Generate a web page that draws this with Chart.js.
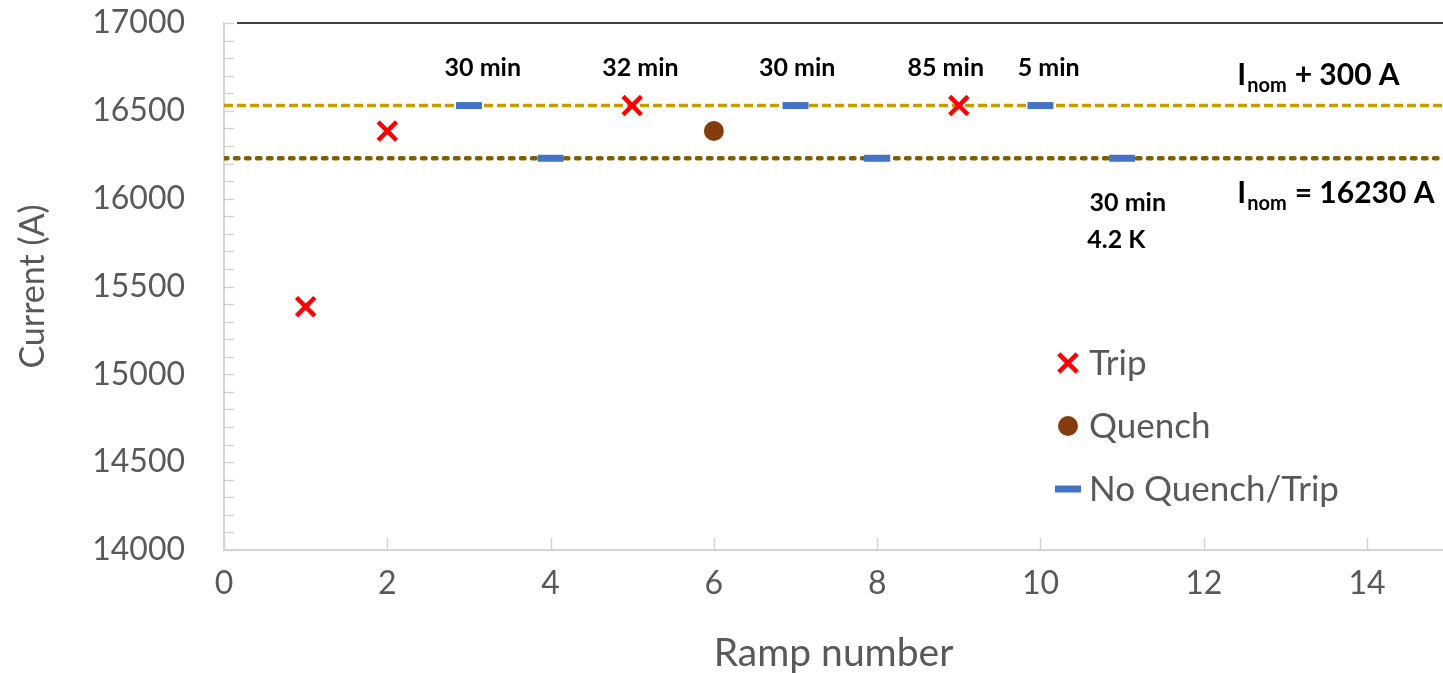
<!DOCTYPE html>
<html>
<head>
<meta charset="utf-8">
<script src="https://cdn.jsdelivr.net/npm/chart.js@4/dist/chart.umd.min.js"></script>
<style>
  html, body { margin: 0; padding: 0; background: #fff; overflow: hidden; }
  #wrap { width: 1443px; height: 673px; }
</style>
</head>
<body>
<div id="wrap"><canvas id="rampChart"></canvas></div>
<script>
// ramp results
const tripRamp = [1, 2, 5, 9];
const tripCurrent = [15385, 16385, 16530, 16530];
const quenchRamp = [6];
const quenchCurrent = [16385];
const noQuenchRamp = [3, 4, 7, 8, 10, 11];
const noQuenchCurrent = [16530, 16230, 16530, 16230, 16530, 16230];

// reference levels
const iNom = 16230;
const iNomPlus = iNom + 300;

// hold-time notes (centre of each note, in axis units)
const noteX = [3.17, 5.10, 7.02, 8.84, 10.10, 11.07, 10.93];
const noteY = [16745, 16745, 16745, 16745, 16745, 15975, 15765];
const noteText = ["30 min", "32 min", "30 min", "85 min", "5 min", "30 min", "4.2 K"];

const xTicks = [0, 2, 4, 6, 8, 10, 12, 14];
const yTicks = [14000, 14500, 15000, 15500, 16000, 16500, 17000];

const GRAY = "#595959";
const AXIS = "#d4d4d4";

function toXY(xs, ys) {
  return xs.map((x, i) => ({ x: x, y: ys[i] }));
}

// inward tick marks, top frame line, notes, level labels, legend
const decorPlugin = {
  id: "decor",
  afterDatasetsDraw(chart) {
    const ctx = chart.ctx;
    const xs = chart.scales.x;
    const ys = chart.scales.y;
    const area = chart.chartArea;
    ctx.save();

    // minor ticks on y every 100 A
    ctx.strokeStyle = AXIS;
    ctx.lineWidth = 1.5;
    for (let v = ys.min; v <= ys.max; v += 100) {
      let py = Math.round(ys.getPixelForValue(v)) + 0.5;
      ctx.beginPath();
      ctx.moveTo(area.left, py);
      ctx.lineTo(area.left + 10, py);
      ctx.stroke();
    }
    // x ticks
    xTicks.forEach((v) => {
      let px = Math.round(xs.getPixelForValue(v)) + 0.5;
      ctx.beginPath();
      ctx.moveTo(px, area.bottom);
      ctx.lineTo(px, area.bottom - 12);
      ctx.stroke();
    });

    // top frame line
    ctx.strokeStyle = "#000";
    ctx.lineWidth = 1.5;
    ctx.beginPath();
    ctx.moveTo(area.left + 13, area.top);
    ctx.lineTo(area.right, area.top);
    ctx.stroke();

    // hold-time notes
    ctx.fillStyle = "#000";
    ctx.font = "bold 25px Lato";
    ctx.textAlign = "center";
    ctx.textBaseline = "middle";
    noteText.forEach((t, i) => {
      ctx.fillText(t, xs.getPixelForValue(noteX[i]), ys.getPixelForValue(noteY[i]));
    });

    // level labels with subscript
    function levelLabel(rest, value, dy) {
      let px = xs.getPixelForValue(12.41);
      let py = ys.getPixelForValue(value) + dy;
      ctx.textAlign = "left";
      ctx.textBaseline = "alphabetic";
      ctx.font = "bold 30px Lato";
      ctx.fillText("I", px, py);
      px += ctx.measureText("I").width + 1;
      ctx.font = "bold 20px Lato";
      ctx.fillText("nom", px, py + 7);
      px += ctx.measureText("nom").width + 8;
      ctx.font = "bold 30px Lato";
      ctx.fillText(rest, px, py);
    }
    levelLabel("+ 300 A", iNomPlus, -21);
    levelLabel("= 16230 A", iNom, 45);

    // legend inside the plot
    let lx = 1068, ly = 363;
    ctx.font = "35px Lato";
    ctx.textBaseline = "middle";
    chart.data.datasets.forEach((ds) => {
      if (!ds.inLegend) return;
      ctx.save();
      ctx.fillStyle = ds.backgroundColor;
      ctx.strokeStyle = ds.borderColor;
      ctx.lineWidth = ds.borderWidth;
      Chart.helpers.drawPoint(ctx, {
        pointStyle: ds.pointStyle,
        radius: ds.legendRadius,
        borderWidth: ds.borderWidth,
        rotation: 0,
      }, lx, ly);
      ctx.restore();
      ctx.fillStyle = GRAY;
      ctx.textAlign = "left";
      ctx.fillText(ds.label, lx + 21, ly + 1);
      ly += 63;
    });
    ctx.restore();
  },
};

const chartData = {
  datasets: [
    {
      label: "I_nom + 300 A",
      type: "line",
      data: [{ x: 0, y: iNomPlus }, { x: 15, y: iNomPlus }],
      borderColor: "#c89b00",
      borderWidth: 3.5,
      borderDash: [9, 4],
      pointRadius: 0,
      order: 5,
    },
    {
      label: "I_nom",
      type: "line",
      data: [{ x: 0, y: iNom }, { x: 15, y: iNom }],
      borderColor: "#7f6000",
      borderWidth: 4.5,
      borderDash: [3.5, 7.5],
      borderCapStyle: "round",
      pointRadius: 0,
      order: 5,
    },
    {
      label: "Trip",
      data: toXY(tripRamp, tripCurrent),
      pointStyle: "crossRot",
      pointRadius: 13,
      legendRadius: 13,
      borderColor: "#ff0000",
      backgroundColor: "#ff0000",
      borderWidth: 4.5,
      inLegend: true,
    },
    {
      label: "Quench",
      data: toXY(quenchRamp, quenchCurrent),
      pointStyle: "circle",
      pointRadius: 10,
      legendRadius: 10,
      borderColor: "#843c0c",
      backgroundColor: "#843c0c",
      borderWidth: 0,
      inLegend: true,
    },
    {
      label: "No Quench/Trip",
      data: toXY(noQuenchRamp, noQuenchCurrent),
      pointStyle: "line",
      pointRadius: 13,
      legendRadius: 13,
      borderColor: "#4472c4",
      backgroundColor: "#4472c4",
      borderWidth: 7,
      inLegend: true,
    },
  ],
};

const options = {
  responsive: true,
  maintainAspectRatio: false,
  animation: false,
  layout: { autoPadding: false, padding: { top: 23, right: 0, left: 0, bottom: 0 } },
  plugins: {
    legend: { display: false },
    tooltip: { enabled: false },
  },
  scales: {
    x: {
      type: "linear",
      min: 0,
      max: 14.93,
      afterFit: (s) => { s.height = 123; s.paddingLeft = 0; s.paddingRight = 0; },
      afterBuildTicks: (s) => { s.ticks = xTicks.map((v) => ({ value: v })); },
      grid: { display: false, drawTicks: false },
      border: { display: true, color: AXIS, width: 2 },
      ticks: { padding: 14, color: GRAY, font: { family: "Lato", size: 32 } },
      title: {
        display: true,
        text: "Ramp number",
        color: GRAY,
        font: { family: "Lato", size: 39, lineHeight: 1 },
        padding: { top: 0, bottom: 0 },
      },
    },
    y: {
      type: "linear",
      min: 14000,
      max: 17000,
      afterFit: (s) => { s.width = 224; s.paddingTop = 0; s.paddingBottom = 0; },
      afterBuildTicks: (s) => { s.ticks = yTicks.map((v) => ({ value: v })); },
      grid: { display: false, drawTicks: false },
      border: { display: true, color: AXIS, width: 2 },
      ticks: {
        padding: 39,
        color: GRAY,
        font: { family: "Lato", size: 32 },
        callback: (v) => String(v),
      },
      title: {
        display: true,
        text: "Current (A)",
        color: GRAY,
        font: { family: "Lato", size: 34, lineHeight: 1 },
        padding: { top: 16, bottom: 0 },
      },
    },
  },
};

const ctx = document.getElementById("rampChart").getContext("2d");
const rampChart = new Chart(ctx, {
  type: "scatter",
  data: chartData,
  options: options,
  plugins: [decorPlugin],
});
</script>
</body>
</html>
